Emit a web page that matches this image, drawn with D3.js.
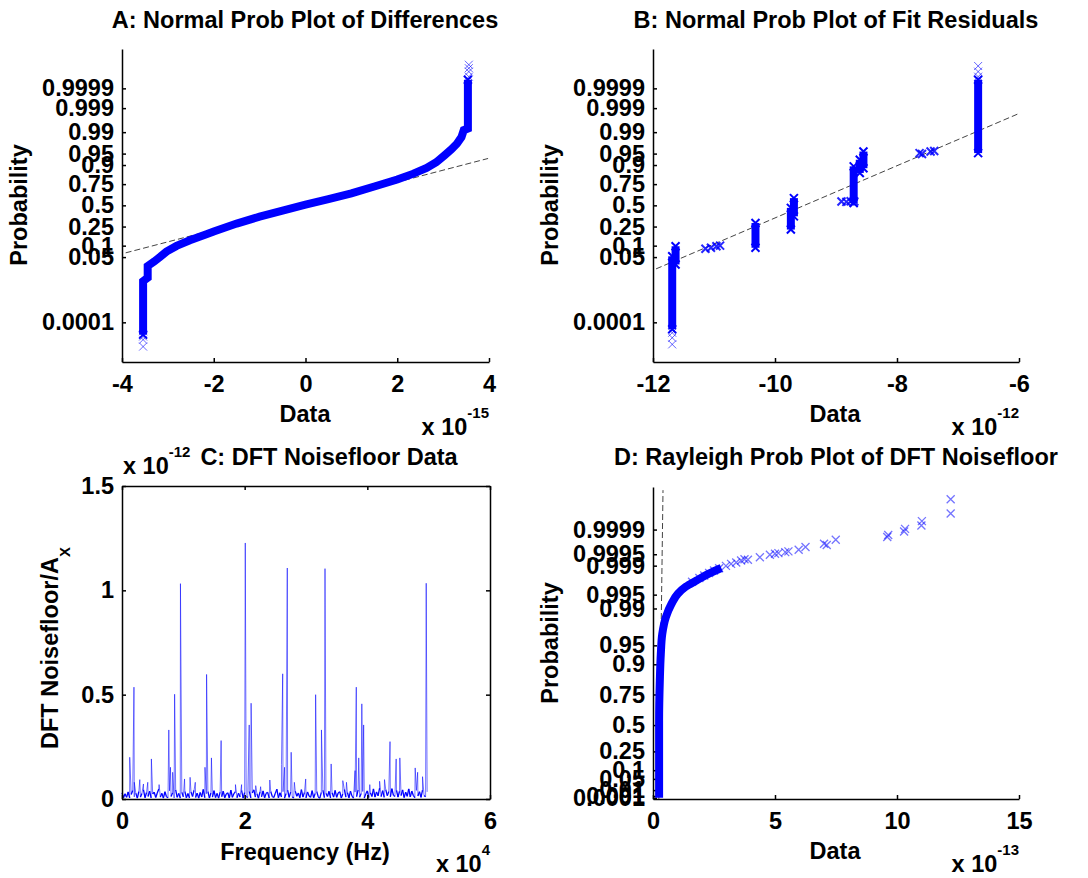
<!DOCTYPE html>
<html>
<head>
<meta charset="utf-8">
<script src="https://d3js.org/d3.v7.min.js"></script>
<style>
  body { margin: 0; background: #fff; }
  svg text { font-family: "Liberation Sans", Arial, sans-serif; font-weight: bold; fill: #000; }
</style>
</head>
<body>
<svg id="chart" width="1088" height="878"></svg>
<script>
// ---------- data ----------
var normTicks = [0.0001, 0.05, 0.1, 0.25, 0.5, 0.75, 0.9, 0.95, 0.99, 0.999, 0.9999];
var raylTicks = [0.0001, 0.001, 0.01, 0.05, 0.1, 0.25, 0.5, 0.75, 0.9, 0.95, 0.99, 0.995, 0.999, 0.9995, 0.9999];

// A: centre of the dense marker band (x in 1e-15, normal score)
var aX     = [-3.54, -3.54, -3.44, -3.44, -3.30, -3.17, -3.03, -2.81, -2.52, -2.16, -2.0, -1.5, -1.0, -0.5, 0, 0.5, 1.0, 1.5, 2.0, 2.34, 2.64, 2.85, 3.03, 3.18, 3.30, 3.40, 3.45, 3.54, 3.54];
var aScore = [-4.11, -2.41, -2.30, -1.93, -1.79, -1.64, -1.47, -1.29, -1.11, -0.92, -0.83, -0.58, -0.36, -0.17, 0.02, 0.20, 0.38, 0.60, 0.82, 1.0, 1.19, 1.37, 1.59, 1.78, 1.96, 2.17, 2.39, 2.44, 3.99];
var aTailX     = [-3.54, -3.54, -3.54, 3.56, 3.56, 3.56, 3.56];
var aTailScore = [-4.17, -4.27, -4.49, 4.09, 4.25, 4.36, 4.47];
var aRef = [[-3.92, -1.51], [3.98, 1.49]];

// B: columns of stacked markers (x in 1e-12, score low, score high)
var bColX  = [-11.685, -11.63, -10.32, -9.74, -9.69, -8.71, -8.61, -8.55, -6.67];
var bColLo = [-3.94, -1.88, -1.35, -0.77, -0.35, 0.07, 1.03, 1.18, 1.66];
var bColHi = [-1.62, -1.30, -0.56, -0.08, 0.23, 1.24, 1.45, 1.71, 3.99];
var bPtX     = [-11.14, -11.05, -10.96, -10.90, -8.91, -8.83, -8.76, -8.70, -7.63, -7.59, -7.45, -7.39];
var bPtScore = [-1.38, -1.35, -1.30, -1.28, 0.12, 0.11, 0.13, 0.12, 1.66, 1.63, 1.71, 1.73];
var bTailX     = [-11.685, -11.685, -11.685, -6.67, -6.67, -6.67];
var bTailScore = [-4.05, -4.21, -4.42, 4.09, 4.25, 4.43];
var bRef = [[-11.95, -2.02], [-6.0, 2.92]];

// C: DFT noise floor (freq in 1e4 Hz, value in 1e-12)
var cStep = 0.025;
var cNoise = [
  .030,.006,.025,.008,.034,.005,.022,.041,.010,.028,.004,.036,.009,.026,.045,.006,.031,.012,.038,.005,
  .024,.033,.007,.029,.048,.009,.027,.004,.035,.011,.006,.039,.012,.030,.005,.044,.008,.027,.004,.032,
  .010,.037,.006,.026,.005,.034,.012,.042,.007,.028,.004,.031,.010,.046,.006,.025,.036,.005,.029,.009,
  .040,.007,.027,.004,.033,.011,.038,.006,.024,.030,.005,.043,.008,.026,.035,.006,.028,.010,.041,.004,
  .031,.012,.007,.037,.005,.029,.044,.009,.025,.004,.034,.010,.039,.006,.027,.032,.005,.036,.012,.007,
  .028,.047,.006,.030,.010,.035,.004,.026,.042,.008,.033,.011,.005,.038,.013,.029,.006,.045,.009,.031,
  .005,.034,.014,.008,.040,.006,.027,.036,.010,.004,.032,.043,.007,.028,.012,.037,.005,.030,.009,.041,
  .008,.029,.035,.005,.024,.046,.009,.031,.006,.038,.014,.004,.033,.011,.044,.008,.027,.036,.005,.025,
  .039,.007,.030,.012,.048,.009,.034,.015,.052,.011,.040,.008,.045,.016,.036,.010,.050,.018,.012,.042,
  .009,.037,.016,.044,.007,.033,.013,.049,.010,.038,.017,.006,.041,.014,.035,.008,.043,.016,.011,.034
];
var cSpikeF = [0.126, 0.195, 0.20, 0.29, 0.35, 0.42, 0.479, 0.605, 0.763, 0.79, 0.826, 0.858, 0.953, 1.02, 1.11, 1.195,
  1.353, 1.379, 1.458, 1.616, 1.85, 1.95, 2.01, 2.074, 2.105, 2.18, 2.26, 2.41, 2.60, 2.62, 2.65, 2.695, 2.758, 2.81,
  2.995, 3.157, 3.252, 3.31, 3.41, 3.60, 3.66, 3.80, 3.82, 3.86, 3.91, 3.94, 4.04, 4.20, 4.28, 4.37, 4.47, 4.53,
  4.78, 4.82, 4.90, 4.96];
var cSpikeV = [0.20, 0.536, 0.08, 0.093, 0.072, 0.08, 0.192, 0.069, 0.331, 0.152, 0.128, 0.502, 1.032, 0.096, 0.104, 0.08,
  0.152, 0.597, 0.197, 0.28, 0.069, 0.069, 1.227, 0.355, 0.459, 0.064, 0.059, 0.091, 0.165, 0.60, 0.152, 1.107, 0.224, 0.08,
  0.096, 0.50, 0.331, 1.104, 0.168, 0.088, 0.08, 0.136, 0.536, 0.197, 0.456, 0.355, 0.069, 0.085, 0.093, 0.275, 0.192, 0.197,
  0.149, 0.128, 0.107, 1.034];

// D: Rayleigh plot (x in 1e-13, Rayleigh score)
var dX     = [0.25, 0.25, 0.28, 0.32, 0.38, 0.53, 0.76, 1.02, 1.34, 1.78, 2.29, 2.80];
var dScore = [0.02, 1.25, 1.89, 2.31, 2.63, 2.90, 3.11, 3.27, 3.38, 3.48, 3.59, 3.68];
var dPtX = [1.6, 1.9, 2.1, 2.3, 2.5, 2.71, 2.99, 3.20, 3.41, 3.61, 3.75, 3.89, 4.38, 4.79, 5.0, 5.14, 5.42, 5.55, 5.97, 6.25,
  7.01, 7.12, 7.49, 9.60, 9.64, 10.29, 10.33, 11.0, 11.02, 12.2, 12.2];
var dPtScore = [3.46, 3.52, 3.56, 3.60, 3.64, 3.676, 3.714, 3.746, 3.767, 3.80, 3.82, 3.81, 3.85, 3.89, 3.907, 3.917, 3.933,
  3.944, 3.971, 4.014, 4.067, 4.046, 4.131, 4.174, 4.206, 4.26, 4.303, 4.356, 4.426, 4.549, 4.774];
var dRef = [[0.24, 0], [0.41, 4.92]];

// ---------- helpers ----------
function probit(p) {
  var a = [-3.969683028665376e+01, 2.209460984245205e+02, -2.759285104469687e+02, 1.383577518672690e+02, -3.066479806614716e+01, 2.506628277459239e+00];
  var b = [-5.447609879822406e+01, 1.615858368580409e+02, -1.556989798598866e+02, 6.680131188771972e+01, -1.328068155288572e+01];
  var c = [-7.784894002430293e-03, -3.223964580411365e-01, -2.400758277161838e+00, -2.549732539343734e+00, 4.374664141464968e+00, 2.938163982698783e+00];
  var d = [7.784695709041462e-03, 3.224671290700398e-01, 2.445134137142996e+00, 3.754408661907416e+00];
  var q, r;
  if (p < 0.02425) {
    q = Math.sqrt(-2 * Math.log(p));
    return (((((c[0]*q+c[1])*q+c[2])*q+c[3])*q+c[4])*q+c[5]) / ((((d[0]*q+d[1])*q+d[2])*q+d[3])*q+1);
  }
  if (p > 1 - 0.02425) {
    q = Math.sqrt(-2 * Math.log(1 - p));
    return -(((((c[0]*q+c[1])*q+c[2])*q+c[3])*q+c[4])*q+c[5]) / ((((d[0]*q+d[1])*q+d[2])*q+d[3])*q+1);
  }
  q = p - 0.5; r = q * q;
  return (((((a[0]*r+a[1])*r+a[2])*r+a[3])*r+a[4])*r+a[5])*q / (((((b[0]*r+b[1])*r+b[2])*r+b[3])*r+b[4])*r+1);
}
function rayl(p) { return Math.sqrt(-2 * Math.log(1 - p)); }

// scale in probability units built on a linear score scale
function probScale(lin, tf) {
  var s = function(p) { return lin(tf(p)); };
  s.range = function() { return lin.range(); };
  s.copy = function() { return probScale(lin.copy(), tf); };
  return s;
}

var svg = d3.select("#chart");
var FS = 23.5;
var fmt = d => String(d);

function styleAxis(g) {
  g.selectAll("text").style("font-size", FS + "px");
  g.select(".domain").attr("stroke-width", 1.5);
  g.selectAll(".tick line").attr("stroke-width", 1.5);
  return g;
}
function leftAxis(x, scale, ticks) {
  return styleAxis(svg.append("g").attr("transform", "translate(" + x + ",0)")
    .call(d3.axisLeft(scale).tickValues(ticks).tickFormat(fmt).tickSizeInner(-4).tickSizeOuter(0).tickPadding(8)));
}
function bottomAxis(y, scale, ticks) {
  var g = styleAxis(svg.append("g").attr("transform", "translate(0," + y + ")")
    .call(d3.axisBottom(scale).tickValues(ticks).tickFormat(fmt).tickSizeInner(-4).tickSizeOuter(0)));
  g.selectAll("text").attr("dy", null).attr("y", 30);
  return g;
}
function xMarks(pts, sx, sy, size, opacity, width) {
  svg.append("g").selectAll("path").data(pts).enter().append("path")
    .attr("transform", d => "translate(" + sx(d[0]) + "," + sy(d[1]) + ")")
    .attr("d", "M" + (-size) + "," + (-size) + "L" + size + "," + size + "M" + (-size) + "," + size + "L" + size + "," + (-size))
    .attr("fill", "none").attr("stroke", "#0000ff")
    .attr("stroke-opacity", opacity).attr("stroke-width", width);
}
function dashed(pts, sx, sy) {
  svg.append("path").attr("d", d3.line().x(d => sx(d[0])).y(d => sy(d[1]))(pts))
    .attr("fill", "none").attr("stroke", "#444").attr("stroke-width", 1).attr("stroke-dasharray", "6,3");
}
function text(x, y, s, anchor, rot) {
  var t = svg.append("text").attr("font-size", FS).attr("text-anchor", anchor || "middle").text(s);
  if (rot) t.attr("transform", "translate(" + x + "," + y + ") rotate(-90)");
  else t.attr("x", x).attr("y", y);
  return t;
}
function multiplier(x, y, exp, anchor) {
  var t = svg.append("text").attr("x", x).attr("y", y).attr("font-size", FS).attr("text-anchor", anchor);
  t.append("tspan").text("x 10");
  t.append("tspan").attr("dy", -17).attr("font-size", 15).text(exp);
}

// ---------- A ----------
var xA = d3.scaleLinear().domain([-4, 4]).range([122, 489]);
var zA = d3.scaleLinear().domain([-4.98, 4.97]).range([362, 49]);
leftAxis(122, probScale(zA, probit), normTicks);
bottomAxis(362, xA, [-4, -2, 0, 2, 4]);
dashed(aRef, xA, zA);
svg.append("path").attr("d", d3.line().x(d => xA(d[0])).y(d => zA(d[1]))(aX.map((x, i) => [x, aScore[i]])))
  .attr("fill", "none").attr("stroke", "#0000ff").attr("stroke-width", 8).attr("stroke-linejoin", "miter");
xMarks(aTailX.map((x, i) => [x, aTailScore[i]]), xA, zA, 4, 0.6, 1);
xMarks([[aX[0], aScore[0]], [aX[aX.length - 1], aScore[aScore.length - 1]]], xA, zA, 4, 1, 2);
text(305, 28, "A: Normal Prob Plot of Differences");
text(305, 422, "Data");
text(27, 205, "Probability", "middle", true);
multiplier(489, 435, "-15", "end");

// ---------- B ----------
var xB = d3.scaleLinear().domain([-12, -6]).range([653, 1019]);
var zB = d3.scaleLinear().domain([-4.98, 4.97]).range([362, 49]);
leftAxis(653, probScale(zB, probit), normTicks);
bottomAxis(362, xB, [-12, -10, -8, -6]);
dashed(bRef, xB, zB);
var bCols = bColX.map((x, i) => [x, bColLo[i], bColHi[i]]);
svg.append("g").selectAll("line").data(bCols).enter().append("line")
  .attr("x1", d => xB(d[0])).attr("x2", d => xB(d[0]))
  .attr("y1", d => zB(d[1])).attr("y2", d => zB(d[2]))
  .attr("stroke", "#0000ff").attr("stroke-width", 8);
xMarks(bCols.map(d => [d[0], d[1]]).concat(bCols.map(d => [d[0], d[2]])), xB, zB, 4, 1, 2);
xMarks(bPtX.map((x, i) => [x, bPtScore[i]]), xB, zB, 4, 0.85, 2);
xMarks(bTailX.map((x, i) => [x, bTailScore[i]]), xB, zB, 4, 0.6, 1);
text(836, 28, "B: Normal Prob Plot of Fit Residuals");
text(835, 422, "Data");
text(558, 205, "Probability", "middle", true);
multiplier(1019, 435, "-12", "end");

// ---------- C ----------
var xC = d3.scaleLinear().domain([0, 6]).range([122, 490]);
var yC = d3.scaleLinear().domain([0, 1.5]).range([799, 486]);
var cPts = cNoise.map((v, i) => [i * cStep, v])
  .concat(cSpikeF.map((f, i) => [f, cSpikeV[i]]))
  .sort((p, q) => p[0] - q[0]);
svg.append("g").selectAll("line").data(d3.pairs(cPts)).enter().append("line")
  .attr("x1", d => xC(d[0][0])).attr("y1", d => yC(d[0][1]))
  .attr("x2", d => xC(d[1][0])).attr("y2", d => yC(d[1][1]))
  .attr("stroke", "#0000ff")
  .attr("stroke-opacity", d => Math.max(d[0][1], d[1][1]) < 0.055 ? 1 : 0.55)
  .attr("stroke-width", d => Math.max(d[0][1], d[1][1]) < 0.055 ? 1.3 : 1);
leftAxis(122, yC, [0, 0.5, 1, 1.5]);
bottomAxis(799, xC, [0, 2, 4, 6]);
styleAxis(svg.append("g").attr("transform", "translate(0,486)")
  .call(d3.axisTop(xC).tickValues([0, 2, 4, 6]).tickFormat("").tickSizeInner(-4).tickSizeOuter(0)));
styleAxis(svg.append("g").attr("transform", "translate(490,0)")
  .call(d3.axisRight(yC).tickValues([0, 0.5, 1, 1.5]).tickFormat("").tickSizeInner(-4).tickSizeOuter(0)));
text(329, 465, "C: DFT Noisefloor Data");
text(305, 860, "Frequency (Hz)");
var cyl = text(58, 749, "DFT Noisefloor/A", "start", true);
cyl.append("tspan").attr("dy", 12).attr("font-size", 15).text("X");
multiplier(123, 474, "-12", "start");
multiplier(490, 872, "4", "end");

// ---------- D ----------
var xD = d3.scaleLinear().domain([0, 15]).range([653, 1019]);
var qD = d3.scaleLinear().domain([0, 4.97]).range([799, 487]);
leftAxis(653, probScale(qD, rayl), raylTicks);
bottomAxis(799, xD, [0, 5, 10, 15]);
dashed(dRef, xD, qD);
svg.append("path").attr("d", d3.line().curve(d3.curveMonotoneY).x(d => xD(d[0])).y(d => qD(d[1]))(dX.map((x, i) => [x, dScore[i]])))
  .attr("fill", "none").attr("stroke", "#0000ff").attr("stroke-width", 8);
xMarks(dPtX.map((x, i) => [x, dPtScore[i]]), xD, qD, 4, 0.55, 1.3);
text(836, 465, "D: Rayleigh Prob Plot of DFT Noisefloor");
text(835, 859, "Data");
text(558, 643, "Probability", "middle", true);
multiplier(1019, 872, "-13", "end");
</script>
</body>
</html>
